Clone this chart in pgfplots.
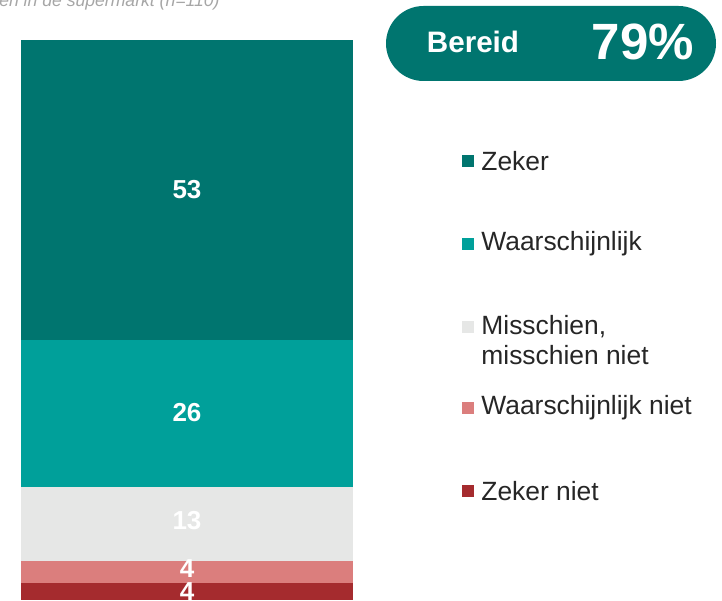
\documentclass[border=0pt]{standalone}
\usepackage{pgfplots}
\pgfplotsset{compat=1.18}
\usepackage{fontspec}
\setmainfont{Liberation Sans}
\definecolor{zeker}{HTML}{00756F}
\definecolor{waarsch}{HTML}{00A09A}
\definecolor{misschien}{HTML}{E6E7E6}
\definecolor{wniet}{HTML}{DB7E7D}
\definecolor{zniet}{HTML}{A52B2E}
\definecolor{txt}{HTML}{262626}
\definecolor{subgray}{HTML}{A6A6A6}
\begin{document}
\begin{tikzpicture}
% 1 px of the reference = 0.5pt
\begin{axis}[
  width=361pt, height=300pt, scale only axis, hide axis,
  xmin=0, xmax=722, ymin=1.06, ymax=107.07,
  ybar stacked, bar width=332,
  every axis plot/.append style={draw=none},
]
\addplot[fill=zniet]     coordinates {(187,4)};
\addplot[fill=wniet]     coordinates {(187,4)};
\addplot[fill=misschien] coordinates {(187,13)};
\addplot[fill=waarsch]   coordinates {(187,26)};
\addplot[fill=zeker]     coordinates {(187,53)};
\end{axis}
\begin{scope}[x=0.5pt, y=-0.5pt, shift={(0,300pt)}]
  % subtitle, cut off by the page
  \node[anchor=base east, font=\fontsize{8.8}{10}\selectfont\itshape, text=subgray, inner sep=0pt]
    at (220,6.5) {Koop producten in de supermarkt (n=110)};
  % bar labels
  \begin{scope}[every node/.style={font=\fontsize{13}{15}\selectfont\bfseries, text=white, inner sep=0pt}]
    \node at (187,190) {53};
    \node at (187,413) {26};
    \node at (187,521) {13};
    \node at (187,569) {4};
    \node at (187,592) {4};
  \end{scope}
  % badge
  \fill[zeker, rounded corners=37.5*0.5pt] (386,6) rectangle (716,81);
  \node[font=\fontsize{14.8}{16}\selectfont\bfseries, text=white] at (473,42) {Bereid};
  \node[font=\fontsize{25.5}{30}\selectfont\bfseries, text=white] at (643,42) {79\%};
  % legend
  \begin{scope}[every node/.style={font=\fontsize{13.2}{13.5}\selectfont, text=txt, anchor=west, inner sep=0pt}]
    \fill[zeker]     (462,155) rectangle (474,167);
    \node at (481,161) {Zeker};
    \fill[waarsch]   (462,238) rectangle (474,250);
    \node at (481,244) {Waarschijnlijk};
    \fill[misschien] (462,321) rectangle (474,333);
    \node at (481,327) {Misschien,};
    \node at (481,355) {misschien niet};
    \fill[wniet]     (462,402) rectangle (474,414);
    \node at (481,408) {Waarschijnlijk niet};
    \fill[zniet]     (462,485) rectangle (474,497);
    \node at (481,491) {Zeker niet};
  \end{scope}
\end{scope}
\pgfresetboundingbox
\useasboundingbox (0,0) rectangle (361pt,300pt);
\end{tikzpicture}
\end{document}
